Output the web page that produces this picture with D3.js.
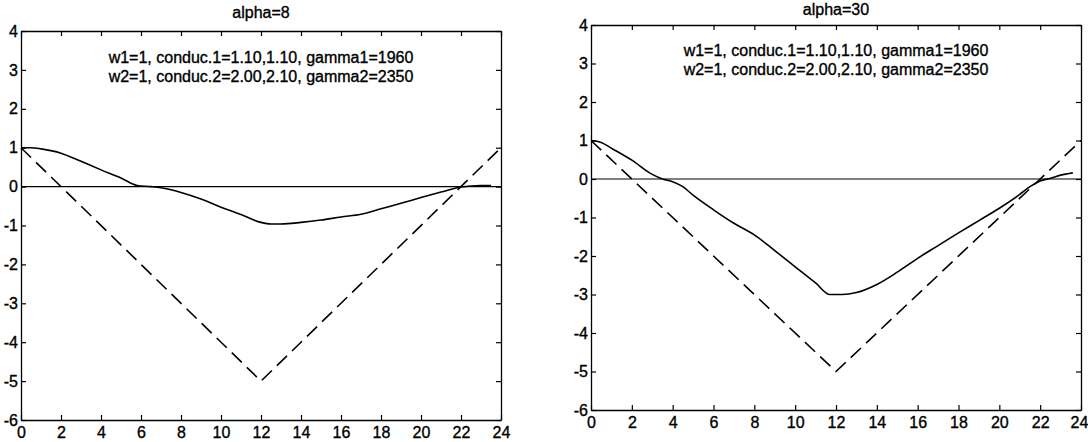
<!DOCTYPE html>
<html lang="en">
<head>
    <meta charset="UTF-8">
    <title>alpha panels</title>
    <script src="https://d3js.org/d3.v7.min.js"></script>
    <style>
        body { margin: 0; background: #fff; }
        svg text { font-family: "Liberation Sans", Arial, sans-serif; fill: #000; stroke: #000; stroke-width: 0.35px; }
        .tick text { font-size: 16px; }
    </style>
</head>
<body>
    <svg width="1088" height="442"></svg>

    <script>
        // shared axis values
        const xDomain = [0, 24];
        const yDomain = [-6, 4];
        const xTicks = [0, 2, 4, 6, 8, 10, 12, 14, 16, 18, 20, 22, 24];
        const yTicks = [-6, -5, -4, -3, -2, -1, 0, 1, 2, 3, 4];

        // dashed reference V
        const vX = [0, 12, 24];
        const vY = [1, -5, 1];

        const titles = ["alpha=8", "alpha=30"];
        const noteLines = [
            "w1=1, conduc.1=1.10,1.10, gamma1=1960",
            "w2=1, conduc.2=2.00,2.10, gamma2=2350"
        ];

        // solid curve, alpha=8
        const leftX = [0, 0.5, 1, 2, 3, 4, 5, 5.8, 6.5, 7, 8, 9, 10, 11, 12, 12.5, 13, 14, 15, 16, 17, 18, 19, 20, 21, 22, 23, 23.5];
        const leftY = [1.0, 1.0, 0.97, 0.86, 0.65, 0.43, 0.22, 0.03, 0.0, -0.03, -0.15, -0.32, -0.53, -0.72, -0.92, -0.96, -0.96, -0.92, -0.86, -0.78, -0.71, -0.57, -0.43, -0.28, -0.14, -0.01, 0.03, 0.03];

        // solid curve, alpha=30
        const rightX = [0, 0.5, 1, 2, 3, 3.5, 4, 4.5, 5, 6, 7, 8, 9, 10, 11, 11.7, 12.3, 13, 14, 15, 16, 17, 18, 19, 20, 21, 21.5, 22, 22.5, 23, 23.6];
        const rightY = [1.0, 0.95, 0.8, 0.49, 0.12, 0.0, -0.07, -0.2, -0.42, -0.8, -1.15, -1.45, -1.86, -2.28, -2.7, -3.0, -3.0, -2.95, -2.74, -2.42, -2.06, -1.73, -1.4, -1.08, -0.76, -0.4, -0.2, -0.05, 0.02, 0.1, 0.16];

        const svg = d3.select("svg");
        const plain = d => String(d);   // hyphen minus, like the original

        function drawPanel(p) {
            const x = d3.scaleLinear().domain(xDomain).range([p.left, p.right]);
            const y = d3.scaleLinear().domain(yDomain).range([p.bottom, p.top]);
            const g = svg.append("g");

            // box with inward ticks on all sides
            const bottomAxis = g.append("g").attr("transform", `translate(0,${p.bottom})`)
                .call(d3.axisBottom(x).tickValues(xTicks).tickFormat(plain)
                    .tickSizeInner(-5).tickSizeOuter(0).tickPadding(7));
            g.append("g").attr("transform", `translate(0,${p.top})`)
                .call(d3.axisTop(x).tickValues(xTicks).tickSizeInner(-5).tickSizeOuter(0).tickFormat(""));
            g.append("g").attr("transform", `translate(${p.left},0)`)
                .call(d3.axisLeft(y).tickValues(yTicks).tickFormat(plain)
                    .tickSizeInner(-5).tickSizeOuter(0).tickPadding(3));
            g.append("g").attr("transform", `translate(${p.right},0)`)
                .call(d3.axisRight(y).tickValues(yTicks).tickSizeInner(-5).tickSizeOuter(0).tickFormat(""));
            g.selectAll(".domain").attr("stroke", "#000").attr("stroke-width", 1.3);
            g.selectAll(".tick line").attr("stroke", "#000").attr("stroke-width", 1.2);
            g.selectAll("g").attr("font-family", null).attr("font-size", null);
            bottomAxis.selectAll(".tick text").filter(d => d === 24).attr("dx", p.lastDx);

            // zero line
            g.append("line")
                .attr("x1", x(xDomain[0])).attr("x2", x(xDomain[1]))
                .attr("y1", y(0)).attr("y2", y(0))
                .attr("stroke", "#000").attr("stroke-width", 1.1);

            const line = d3.line()
                .x(d => x(d[0]))
                .y(d => y(d[1]))
                .curve(d3.curveMonotoneX);

            g.append("path")
                .datum(d3.zip(vX, vY))
                .attr("d", d3.line().x(d => x(d[0])).y(d => y(d[1])))
                .attr("fill", "none")
                .attr("stroke", "#000")
                .attr("stroke-width", 1.6)
                .attr("stroke-dasharray", "14,7");

            g.append("path")
                .datum(d3.zip(p.cx, p.cy))
                .attr("d", line)
                .attr("fill", "none")
                .attr("stroke", "#000")
                .attr("stroke-width", 1.6);

            const mid = (p.left + p.right) / 2;
            g.append("text")
                .attr("x", mid).attr("y", p.titleY)
                .attr("text-anchor", "middle")
                .attr("font-size", 16)
                .text(p.title);

            g.selectAll(".note")
                .data(noteLines)
                .enter()
                .append("text")
                .attr("x", mid)
                .attr("y", (d, i) => p.noteY + i * 19)
                .attr("text-anchor", "middle")
                .attr("font-size", 16)
                .text(d => d);
        }

        drawPanel({ left: 21, right: 501, top: 31, bottom: 420, titleY: 18,
            title: titles[0], noteY: 63, cx: leftX, cy: leftY, lastDx: 0 });
        drawPanel({ left: 591, right: 1081, top: 25, bottom: 410, titleY: 15,
            title: titles[1], noteY: 56, cx: rightX, cy: rightY, lastDx: -2 });
    </script>
</body>
</html>
